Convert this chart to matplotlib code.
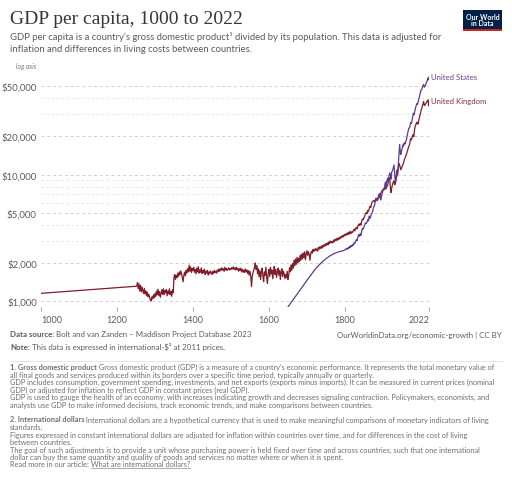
import matplotlib
matplotlib.use("Agg")
import matplotlib.pyplot as plt
from matplotlib.patches import Rectangle
from matplotlib.lines import Line2D
from matplotlib.ticker import FixedLocator, NullFormatter

# --- data ---
uk_years = [1000, 1252, 1254, 1256, 1258, 1260, 1262, 1264, 1266, 1268, 1270, 1272, 1274, 1276, 1278,
            1280, 1282, 1284, 1286, 1288, 1290, 1292, 1294, 1296, 1298, 1300, 1302, 1304, 1306, 1308,
            1310, 1312, 1314, 1316, 1318, 1320, 1322, 1324, 1326, 1328, 1330, 1332, 1334, 1336, 1338,
            1340, 1342, 1344, 1346, 1348, 1350, 1352, 1354, 1356, 1358, 1360, 1362, 1364, 1366, 1368,
            1370, 1372, 1374, 1376, 1378, 1380, 1382, 1384, 1386, 1388, 1390, 1392, 1394, 1396, 1398,
            1400, 1402, 1404, 1406, 1408, 1410, 1412, 1414, 1416, 1418, 1420, 1422, 1424, 1426, 1428,
            1430, 1432, 1434, 1436, 1438, 1440, 1442, 1444, 1446, 1448, 1450, 1452, 1454, 1456, 1458,
            1460, 1462, 1464, 1466, 1468, 1470, 1472, 1474, 1476, 1478, 1480, 1482, 1484, 1486, 1488,
            1490, 1492, 1494, 1496, 1498, 1500, 1502, 1504, 1506, 1508, 1510, 1512, 1514, 1516, 1518,
            1520, 1522, 1524, 1526, 1528, 1530, 1532, 1534, 1536, 1538, 1540, 1542, 1544, 1546, 1548,
            1550, 1552, 1554, 1556, 1558, 1560, 1562, 1564, 1566, 1568, 1570, 1572, 1574, 1576, 1578,
            1580, 1582, 1584, 1586, 1588, 1590, 1592, 1594, 1596, 1598, 1600, 1602, 1604, 1606, 1608,
            1610, 1612, 1614, 1616, 1618, 1620, 1622, 1624, 1626, 1628, 1630, 1632, 1634, 1636, 1638,
            1640, 1642, 1644, 1646, 1648, 1650, 1652, 1654, 1656, 1658, 1660, 1662, 1664, 1666, 1668,
            1670, 1672, 1674, 1676, 1678, 1680, 1682, 1684, 1686, 1688, 1690, 1692, 1694, 1696, 1698,
            1700, 1702, 1704, 1706, 1708, 1710, 1712, 1714, 1716, 1718, 1720, 1722, 1724, 1726, 1728,
            1730, 1732, 1734, 1736, 1738, 1740, 1742, 1744, 1746, 1748, 1750, 1752, 1754, 1756, 1758,
            1760, 1762, 1764, 1766, 1768, 1770, 1772, 1774, 1776, 1778, 1780, 1782, 1784, 1786, 1788,
            1790, 1792, 1794, 1796, 1798, 1800, 1802, 1804, 1806, 1808, 1810, 1812, 1814, 1816, 1818,
            1820, 1822, 1824, 1826, 1828, 1830, 1832, 1834, 1836, 1838, 1840, 1842, 1844, 1846, 1848,
            1850, 1852, 1854, 1856, 1858, 1860, 1862, 1864, 1866, 1868, 1870, 1872, 1874, 1876, 1878,
            1880, 1882, 1884, 1886, 1888, 1890, 1892, 1894, 1896, 1898, 1900, 1902, 1904, 1906, 1908,
            1910, 1912, 1913, 1915, 1918, 1919, 1921, 1923, 1925, 1927, 1929, 1931, 1933, 1935, 1937,
            1939, 1941, 1943, 1945, 1947, 1950, 1953, 1956, 1960, 1963, 1966, 1970, 1973, 1975, 1979,
            1981, 1984, 1988, 1990, 1992, 1995, 1998, 2000, 2003, 2005, 2007, 2009, 2011, 2014, 2016,
            2018, 2019, 2020, 2021, 2022]
uk_gdp = [1150, 1310, 1400, 1250, 1370, 1200, 1330, 1180, 1290, 1210, 1150, 1260, 1140, 1200, 1100,
          1170, 1080, 1130, 1060, 1010, 1000, 1080, 1040, 1120, 1060, 1150, 1090, 1200, 1120, 1240,
          1110, 1190, 1070, 1150, 1230, 1130, 1250, 1120, 1210, 1160, 1230, 1100, 1200, 1140, 1250,
          1120, 1190, 1090, 1230, 1160, 1550, 1620, 1480, 1590, 1530, 1660, 1570, 1700, 1610, 1730,
          1640, 1520, 1420, 1600, 1690, 1580, 1750, 1660, 1800, 1700, 1920, 1720, 1860, 1680, 1810,
          1740, 1850, 1690, 1780, 1640, 1820, 1700, 1870, 1660, 1760, 1690, 1830, 1650, 1740, 1680,
          1790, 1620, 1720, 1660, 1750, 1600, 1700, 1640, 1730, 1670, 1620, 1710, 1650, 1750, 1680,
          1720, 1660, 1760, 1700, 1790, 1720, 1800, 1740, 1830, 1760, 1800, 1720, 1850, 1760, 1810,
          1740, 1790, 1830, 1760, 1810, 1770, 1840, 1790, 1860, 1780, 1830, 1760, 1850, 1770, 1810,
          1720, 1800, 1740, 1820, 1700, 1780, 1690, 1760, 1680, 1790, 1700, 1760, 1650, 1740, 1600,
          1720, 1580, 1300, 1560, 1680, 1750, 1860, 2000, 1780, 1900, 1640, 1800, 1560, 1740, 1480,
          1690, 1820, 1580, 1420, 1700, 1600, 1850, 1520, 1380, 1650, 1780, 1560, 1850, 1640, 1760,
          1500, 1720, 1880, 1620, 1780, 1540, 1700, 1820, 1600, 1750, 1480, 1690, 1800, 1560, 1720,
          1640, 1500, 1620, 1540, 1720, 1480, 1600, 1830, 1700, 1930, 1750, 1980, 1820, 2100, 1900,
          2150, 1950, 2220, 2000, 2180, 2060, 2300, 2100, 2350, 2150, 2400, 2200, 2450, 2120, 2350,
          2500, 2300, 2450, 2330, 2100, 2380, 2470, 2390, 2560, 2460, 2520, 2600, 2500, 2580, 2480,
          2650, 2570, 2690, 2600, 2720, 2620, 2760, 2680, 2800, 2720, 2850, 2760, 2880, 2790, 2940,
          2850, 2980, 2890, 2950, 2880, 3030, 2940, 3080, 3000, 3120, 3020, 3150, 3060, 3200, 3130,
          3250, 3170, 3300, 3220, 3350, 3280, 3400, 3320, 3450, 3350, 3500, 3380, 3560, 3420, 3520,
          3480, 3600, 3700, 3580, 3750, 3820, 3720, 3900, 4050, 3950, 4100, 3980, 4250, 4450, 4400,
          4550, 4680, 4900, 5000, 4900, 5200, 5100, 5400, 5600, 5500, 5900, 6100, 6150, 6250, 6100,
          6300, 6500, 6400, 6350, 6700, 7000, 6800, 7050, 7300, 7500, 7600, 7700, 7600, 7900, 7700,
          8000, 8200, 8400, 9100, 9400, 8200, 7200, 7800, 8300, 8700, 8900, 8300, 8600, 9300, 9800,
          10100, 11600, 12200, 11500, 10900, 11500, 12100, 13000, 14000, 14800, 16000, 17300, 19200, 18800, 20700,
          19900, 23500, 25500, 25900, 25000, 27500, 30000, 31700, 34000, 35800, 37800, 35200, 35600, 36900, 37800,
          38500, 38900, 34900, 37300, 38500]

us_years = [1650, 1660, 1670, 1680, 1690, 1700, 1710, 1720, 1730, 1740, 1750, 1760, 1770, 1780, 1790,
            1796, 1800, 1804, 1806, 1808, 1810, 1812, 1814, 1816, 1818, 1820, 1822, 1824, 1826, 1828,
            1830, 1832, 1834, 1836, 1838, 1840, 1842, 1844, 1846, 1848, 1850, 1852, 1854, 1856, 1858,
            1860, 1862, 1864, 1866, 1868, 1870, 1872, 1874, 1876, 1878, 1880, 1882, 1884, 1886, 1888,
            1890, 1892, 1894, 1896, 1898, 1900, 1902, 1904, 1906, 1907, 1908, 1910, 1912, 1913, 1914,
            1916, 1918, 1920, 1921, 1923, 1926, 1929, 1931, 1932, 1933, 1935, 1937, 1938, 1940, 1942,
            1944, 1946, 1947, 1950, 1953, 1954, 1956, 1958, 1960, 1962, 1965, 1968, 1970, 1973, 1975,
            1978, 1980, 1982, 1985, 1988, 1990, 1991, 1994, 1997, 2000, 2002, 2005, 2007, 2009, 2012,
            2015, 2018, 2019, 2020, 2021, 2022]
us_gdp = [897, 990, 1090, 1200, 1320, 1460, 1600, 1760, 1900, 2040, 2160, 2270, 2360, 2430, 2480,
          2500, 2540, 2600, 2560, 2640, 2600, 2700, 2650, 2750, 2700, 2800, 2760, 2880, 2850, 2980,
          3050, 3000, 3200, 3350, 3250, 3400, 3300, 3550, 3750, 3700, 3850, 4000, 4150, 4100, 4200,
          4400, 4300, 4700, 4500, 4700, 4900, 5000, 5300, 5600, 5700, 6200, 6400, 6200, 6300, 6500,
          6600, 7100, 6300, 6700, 7100, 7400, 7700, 7900, 8600, 8700, 7900, 8900, 9200, 9400, 8700,
          9700, 10300, 9800, 9200, 10400, 10900, 11900, 10200, 8900, 8700, 9800, 10800, 10200, 11500, 14200,
          17300, 14800, 14400, 15800, 17200, 16800, 17800, 17400, 18200, 19000, 21200, 23200, 23400, 25800, 25400,
          28200, 30500, 29700, 33000, 35500, 36500, 35900, 39000, 42500, 46500, 46800, 50000, 51500, 49000, 51000,
          54000, 57000, 58000, 56000, 59000, 59500]

y_ticks = [1000, 2000, 5000, 10000, 20000, 50000]
y_tick_labels = ["$1,000", "$2,000", "$5,000", "$10,000", "$20,000", "$50,000"]
y_minor = [3000, 4000, 6000, 7000, 8000, 9000, 30000, 40000]
x_ticks = [1000, 1200, 1400, 1600, 1800, 2022]

UK_COLOR = "#801d2a"
US_COLOR = "#5b3a91"
GREY = "#5b5b5b"

plt.rcParams["font.family"] = ["Lato", "DejaVu Sans"]

W, H = 512, 502
fig = plt.figure(figsize=(W / 100, H / 100), dpi=100)


def fx(px):
    return px / W


def fy(py):
    return 1 - py / H


ax = fig.add_axes([fx(41), fy(308), fx(429.3) - fx(41), fy(75.3) - fy(308)])
ax.set_yscale("log")
ax.set_xlim(1000, 2022)
ax.set_ylim(897, 62000)

ax.plot(uk_years, uk_gdp, color=UK_COLOR, lw=0.9, zorder=3)
ax.plot(us_years, us_gdp, color=US_COLOR, lw=0.9, zorder=3)

ax.yaxis.set_major_locator(FixedLocator(y_ticks))
ax.set_yticklabels(y_tick_labels)
ax.yaxis.set_minor_locator(FixedLocator(y_minor))
ax.yaxis.set_minor_formatter(NullFormatter())
ax.set_xticks(x_ticks)
ax.set_xticklabels([str(v) for v in x_ticks])
xl = ax.get_xticklabels()
xl[0].set_ha("left")
xl[-1].set_ha("right")

ax.grid(True, axis="y", which="major", color="#d0d0d0", lw=0.7, ls=(0, (3, 3)))
ax.grid(True, axis="y", which="minor", color="#e4e4e4", lw=0.6, ls=(0, (3, 3)))
for s in ax.spines.values():
    s.set_visible(False)
ax.tick_params(axis="y", which="both", length=0, pad=3, labelsize=6.9, labelcolor=GREY)
ax.tick_params(axis="x", length=3, width=0.6, color="#999999", pad=3, labelsize=6.5, labelcolor=GREY)

# series labels at the line ends
ax.annotate("United States", (2022, us_gdp[-1]), xytext=(1.5, 0), textcoords="offset points",
            color="#6d3e91", fontsize=5.6, va="center", ha="left", annotation_clip=False)
ax.annotate("United Kingdom", (2022, uk_gdp[-1]), xytext=(1.5, 0), textcoords="offset points",
            color="#883039", fontsize=5.6, va="center", ha="left", annotation_clip=False)

fig.text(fx(16), fy(67), "log axis", fontsize=4.8, style="italic", color="#777777", va="center")

# title block
fig.text(fx(10), fy(20), "GDP per capita, 1000 to 2022", family=["Liberation Serif", "DejaVu Serif"],
         fontsize=14, color="#363636", va="center")
fig.text(fx(10), fy(37), "GDP per capita is a country\u2019s gross domestic product\u00b9 divided by its population. "
         "This data is adjusted for", fontsize=6.85, color=GREY, va="center")
fig.text(fx(10), fy(49), "inflation and differences in living costs between countries.",
         fontsize=6.85, color=GREY, va="center")

# logo
fig.patches.append(Rectangle((fx(463), fy(32)), fx(39), fy(11) - fy(32), transform=fig.transFigure,
                             facecolor="#002147", edgecolor="none"))
fig.patches.append(Rectangle((fx(463), fy(32)), fx(39), fy(30) - fy(32), transform=fig.transFigure,
                             facecolor="#ce261e", edgecolor="none"))
fig.text(fx(482.5), fy(20.5), "Our World\nin Data", color="white", fontsize=5, fontweight="bold",
         ha="center", va="center", linespacing=0.95)

renderer = fig.canvas.get_renderer()


def rich(px, py, parts, size, color):
    x = fx(px)
    for s, weight, deco in parts:
        t = fig.text(x, fy(py), s, fontsize=size, fontweight=weight, color=color, va="center")
        bb = t.get_window_extent(renderer)
        if deco:
            fig.lines.append(Line2D([bb.x0 / W, bb.x1 / W], [fy(py + 3.8)] * 2, transform=fig.transFigure,
                                    color=color, lw=0.4))
        x = bb.x1 / W


rich(10, 335, [("Data source:", "bold", False),
               (" Bolt and van Zanden \u2013 Maddison Project Database 2023", "normal", False)], 5.7, GREY)
fig.text(fx(502), fy(335), "OurWorldinData.org/economic-growth | CC BY", fontsize=5.7, color=GREY,
         ha="right", va="center")
rich(10, 347, [("Note:", "bold", False),
               (" This data is expressed in international-$\u00b2 at 2011 prices.", "normal", False)], 5.7, GREY)

fig.lines.append(Line2D([fx(10), fx(502)], [fy(361.7)] * 2, transform=fig.transFigure,
                        color="#e2e2e2", lw=0.6))

FOOT = "#6e6e6e"
fs = 5.35
rich(10, 367.7, [("1. Gross domestic product", "bold", False),
                 (" Gross domestic product (GDP) is a measure of a country\u2019s economic performance. "
                  "It represents the total monetary value of", "normal", False)], fs, FOOT)
foot1 = ["all final goods and services produced within its borders over a specific time period, typically annually or quarterly.",
         "GDP includes consumption, government spending, investments, and net exports (exports minus imports). It can be measured in current prices (nominal",
         "GDP) or adjusted for inflation to reflect GDP in constant prices (real GDP).",
         "GDP is used to gauge the health of an economy, with increases indicating growth and decreases signaling contraction. Policymakers, economists, and",
         "analysts use GDP to make informed decisions, track economic trends, and make comparisons between countries."]
for i, line in enumerate(foot1):
    fig.text(fx(10), fy(375 + 7.65 * i), line, fontsize=fs, color=FOOT, va="center")

rich(10, 420, [("2. International dollars", "bold", False),
               (" International dollars are a hypothetical currency that is used to make meaningful "
                "comparisons of monetary indicators of living", "normal", False)], fs, FOOT)
foot2 = ["standards.",
         "Figures expressed in constant international dollars are adjusted for inflation within countries over time, and for differences in the cost of living",
         "between countries.",
         "The goal of such adjustments is to provide a unit whose purchasing power is held fixed over time and across countries, such that one international",
         "dollar can buy the same quantity and quality of goods and services no matter where or when it is spent."]
for i, line in enumerate(foot2):
    fig.text(fx(10), fy(427.7 + 7.5 * i), line, fontsize=fs, color=FOOT, va="center")
rich(10, 465, [("Read more in our article: ", "normal", False),
               ("What are international dollars?", "normal", True)], fs, FOOT)

fig.savefig("out.png", dpi=100, facecolor="white")
